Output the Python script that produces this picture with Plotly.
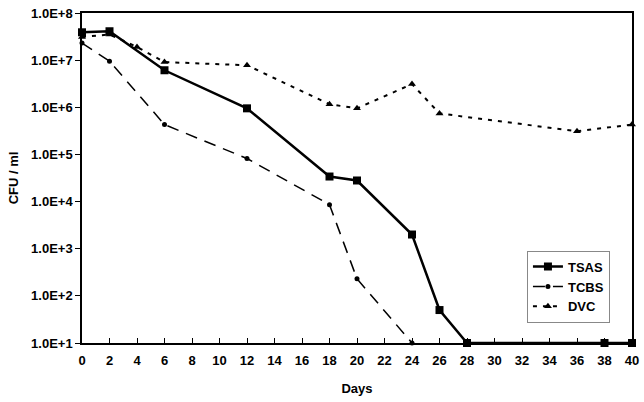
import plotly.graph_objects as go

# Data
tsas_days = [0, 2, 6, 12, 18, 20, 24, 26, 28, 38, 40]
tsas_cfu = [3.9e7, 4.1e7, 6.1e6, 9.5e5, 3.4e4, 2.8e4, 2.0e3, 50, 10, 10, 10]

tcbs_days = [0, 2, 6, 12, 18, 20, 24]
tcbs_cfu = [2.3e7, 9.5e6, 4.3e5, 8.2e4, 8.6e3, 230, 10]

dvc_days = [0, 2, 4, 6, 12, 18, 20, 24, 26, 36, 40]
dvc_cfu = [3.1e7, 3.5e7, 1.9e7, 9.1e6, 7.8e6, 1.16e6, 9.5e5, 3.1e6, 7.4e5, 3.1e5, 4.3e5]

y_ticks = [1e1, 1e2, 1e3, 1e4, 1e5, 1e6, 1e7, 1e8]
y_labels = ["1.0E+1", "1.0E+2", "1.0E+3", "1.0E+4", "1.0E+5", "1.0E+6", "1.0E+7", "1.0E+8"]
x_ticks = list(range(0, 41, 2))

fig = go.Figure()

fig.add_trace(go.Scatter(x=dvc_days, y=dvc_cfu, name="<b>DVC</b>", mode="lines+markers",
                         line=dict(color="black", width=2, dash="4px,6px"),
                         marker=dict(symbol="triangle-up", size=7, color="black"),
                         cliponaxis=False))
fig.add_trace(go.Scatter(x=tcbs_days, y=tcbs_cfu, name="<b>TCBS</b>", mode="lines+markers",
                         line=dict(color="black", width=1.5, dash="12px,8px"),
                         marker=dict(symbol="circle", size=5, color="black"),
                         cliponaxis=False))
fig.add_trace(go.Scatter(x=tsas_days, y=tsas_cfu, name="<b>TSAS</b>", mode="lines+markers",
                         line=dict(color="black", width=2.5),
                         marker=dict(symbol="square", size=8, color="black"),
                         cliponaxis=False))

fig.update_layout(
    width=644, height=402,
    margin=dict(l=82, r=12, t=13, b=59),
    paper_bgcolor="white", plot_bgcolor="white",
    font=dict(family="Liberation Sans, Arial", color="black", size=13),
    showlegend=True,
    legend=dict(x=0.809, y=0.28, xanchor="left", yanchor="top",
                traceorder="reversed",
                bordercolor="#888", borderwidth=1, bgcolor="white",
                font=dict(size=13, family="Liberation Sans, Arial"),
                itemwidth=30, tracegroupgap=0),
)

fig.update_xaxes(
    range=[0, 40], tickvals=x_ticks,
    ticktext=["<b>%d</b>" % t for t in x_ticks],
    showline=True, linecolor="black", linewidth=1.5, mirror=True,
    ticks="inside", ticklen=5, tickcolor="black", ticklabelstandoff=5,
    showgrid=False, zeroline=False, automargin=False, ticklabeloverflow="allow",
    tickfont=dict(size=13, family="Liberation Sans, Arial"),
    title=dict(text="<b>Days</b>", font=dict(size=13), standoff=17),
)
fig.update_yaxes(
    type="log", range=[1, 8], tickvals=y_ticks,
    ticktext=["<b>%s</b>" % t for t in y_labels],
    showline=True, linecolor="black", linewidth=1.5, mirror=True,
    ticks="outside", ticklen=5, tickcolor="black",
    showgrid=False, zeroline=False, automargin=False, ticklabeloverflow="allow",
    tickfont=dict(size=13, family="Liberation Sans, Arial"),
    title=dict(text="<b>CFU / ml</b>", font=dict(size=13), standoff=10),
)

# drop the default 8px body margin so the figure sits at the window corner
fig.write_html("out.html", config={"displayModeBar": False},
               post_script="document.body.style.margin='0';")
